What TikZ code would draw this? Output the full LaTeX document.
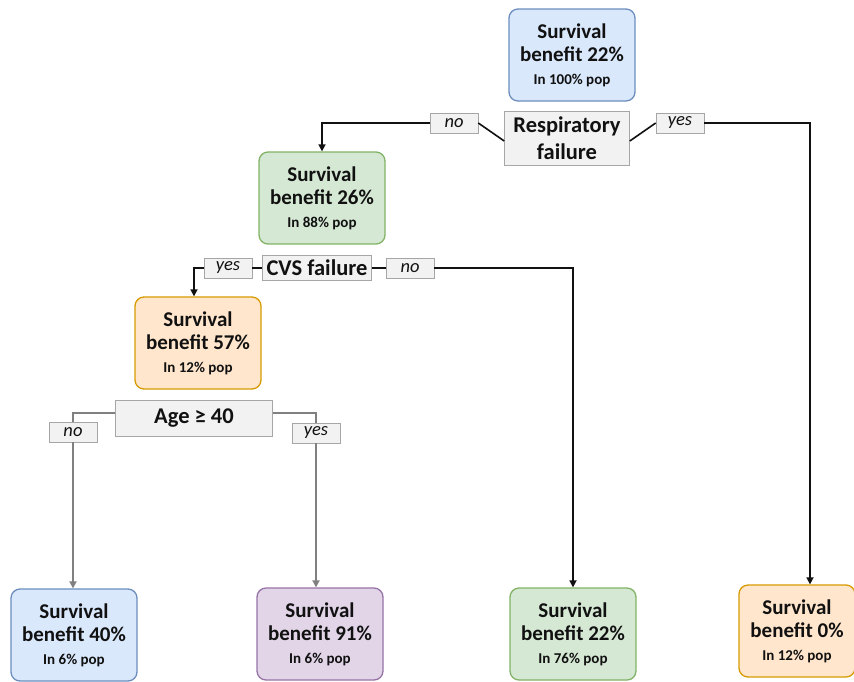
\documentclass[tikz,border=0pt]{standalone}
\usepackage{fontspec}
\setmainfont{Carlito}
\usepackage{xcolor}
\usetikzlibrary{arrows.meta}

\definecolor{blueF}{HTML}{DAE8FC}\definecolor{blueD}{HTML}{6C8EBF}
\definecolor{greenF}{HTML}{D5E8D4}\definecolor{greenD}{HTML}{82B366}
\definecolor{orangeF}{HTML}{FFE6CC}\definecolor{orangeD}{HTML}{D79B00}
\definecolor{purpleF}{HTML}{E1D5E7}\definecolor{purpleD}{HTML}{9673A6}
\definecolor{labelF}{HTML}{F2F2F2}\definecolor{labelD}{HTML}{A6A6A6}
\definecolor{ink}{HTML}{111111}

\begin{document}
\begin{tikzpicture}[x=1pt, y=-1pt,
    benefit/.style={rounded corners=9pt, minimum width=126pt, minimum height=92pt,
      line width=1.3pt, align=center, text=ink, inner sep=1pt,
      font=\bfseries\fontsize{21}{23}\selectfont},
    split/.style={fill=labelF, draw=labelD, line width=0.6pt, align=center, text=ink,
      inner sep=1pt, font=\bfseries\fontsize{22.5}{27}\selectfont},
    answer/.style={fill=labelF, draw=labelD, line width=0.6pt, text=ink,
      minimum width=48pt, minimum height=20pt, inner sep=0pt,
      font=\itshape\fontsize{18.5}{19}\selectfont},
    link/.style={line width=1.6pt, ink},
    arrow/.style={link, -{Triangle[length=7pt,width=7pt]}},
    glink/.style={line width=2pt, black!50},
    garrow/.style={glink, -{Triangle[length=7pt,width=7pt]}}]
  \useasboundingbox[fill=white] (0,0) rectangle (854,681);

  % survival boxes
  \node[benefit, fill=blueF, draw=blueD] (b22a) at (572,55)
    {Survival\\benefit 22\%\\{\fontsize{15}{23}\selectfont In 100\% pop}};
  \node[benefit, fill=greenF, draw=greenD] (b26) at (322,198)
    {Survival\\benefit 26\%\\{\fontsize{15}{23}\selectfont In 88\% pop}};
  \node[benefit, fill=orangeF, draw=orangeD] (b57) at (198,343)
    {Survival\\benefit 57\%\\{\fontsize{15}{23}\selectfont In 12\% pop}};
  \node[benefit, fill=blueF, draw=blueD] (b40) at (74,635)
    {Survival\\benefit 40\%\\{\fontsize{15}{23}\selectfont In 6\% pop}};
  \node[benefit, fill=purpleF, draw=purpleD] (b91) at (320,634)
    {Survival\\benefit 91\%\\{\fontsize{15}{23}\selectfont In 6\% pop}};
  \node[benefit, fill=greenF, draw=greenD] (b22b) at (573,634)
    {Survival\\benefit 22\%\\{\fontsize{15}{23}\selectfont In 76\% pop}};
  \node[benefit, fill=orangeF, draw=orangeD, minimum width=116pt] (b0) at (797,631)
    {Survival\\benefit 0\%\\{\fontsize{15}{23}\selectfont In 12\% pop}};

  % splits
  \node[split, minimum width=125pt, minimum height=54pt] (resp) at (567,138)
    {Respiratory\\failure};
  \node[split, minimum width=109pt, minimum height=25pt] (cvs) at (317,268) {CVS failure};
  \node[split, minimum width=157pt, minimum height=36pt] (age) at (194,418) {Age ≥ 40};

  % answers
  \node[answer] (no1) at (454,123) {no};
  \node[answer] (yes1) at (680,123) {yes};
  \node[answer] (yes2) at (228,268) {yes};
  \node[answer] (no2) at (410,268) {no};
  \node[answer] (no3) at (73,432) {no};
  \node[answer] (yes3) at (316,433) {yes};

  % connectors
  \draw[link] ([yshift=-3pt]resp.west) -- (no1.east);
  \draw[arrow] (no1.west) -| (b26.north);
  \draw[link] ([yshift=-3pt]resp.east) -- (yes1.west);
  \draw[arrow] (yes1.east) -| ([xshift=13pt]b0.north);
  \draw[link] (yes2.east) -- (cvs.west);
  \draw[arrow] (yes2.west) -| ([xshift=-4pt]b57.north);
  \draw[link] (cvs.east) -- (no2.west);
  \draw[arrow] (no2.east) -| (b22b.north);
  \draw[glink] ([yshift=5pt]age.west) -| (no3.north);
  \draw[garrow] (no3.south) -- (no3.south |- b40.north);
  \draw[glink] ([yshift=5pt]age.east) -| (yes3.north);
  \draw[garrow] (yes3.south) -- (yes3.south |- b91.north);
\end{tikzpicture}
\end{document}
